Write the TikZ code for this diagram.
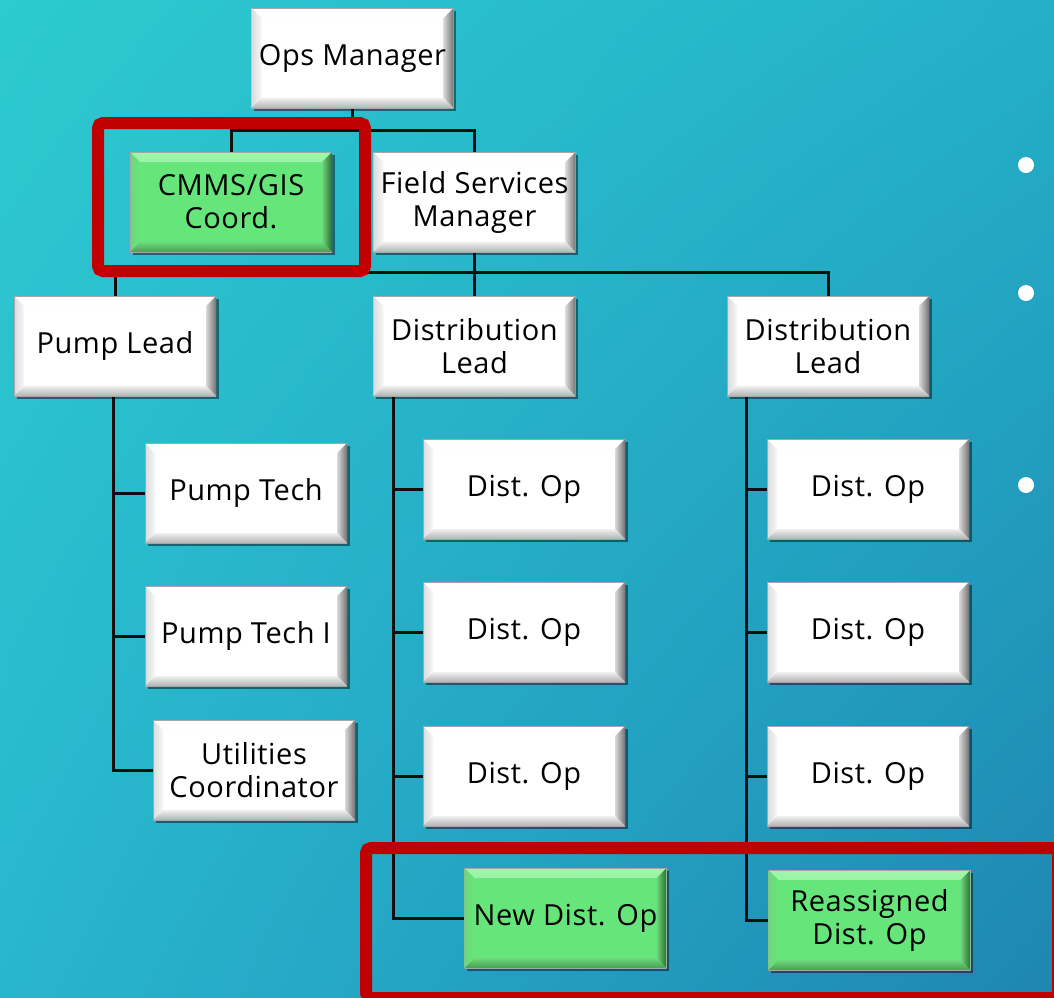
\documentclass[tikz,border=0pt]{standalone}
\usepackage{fontspec}
\setmainfont{Open Sans}[LetterSpace=2]
\usetikzlibrary{shadows,shadings}

\definecolor{bgTL}{RGB}{45,202,208}
\definecolor{bgTR}{RGB}{36,176,200}
\definecolor{bgBL}{RGB}{40,182,206}
\definecolor{bgBR}{RGB}{30,134,178}
\definecolor{frameRed}{RGB}{192,0,0}
\definecolor{faceGreen}{RGB}{102,230,122}
\definecolor{gHi}{RGB}{160,246,170}
\definecolor{gMid}{RGB}{110,215,124}
\definecolor{gLo}{RGB}{70,160,80}
\definecolor{gDeep}{RGB}{40,110,48}
\definecolor{lineInk}{RGB}{15,15,15}

\pgfdeclarelayer{backdrop}
\pgfdeclarelayer{wires}
\pgfsetlayers{backdrop,wires,main}

\newcommand{\boxfont}{\fontsize{29}{33}\selectfont}

\tikzset{
  % bevelled card: #1 face, #2 top edge, #3 left edge, #4 right edge, #5 bottom edge (shading options)
  bevelcard/.style n args={5}{
    rectangle, minimum width=202pt, minimum height=100pt, inner sep=0pt,
    align=center, font=\boxfont, text=black, fill=#1,
    drop shadow={shadow xshift=2.5pt, shadow yshift=-3pt, opacity=0.45, fill=black},
    path picture={
      \shade[#2] (path picture bounding box.north west) -- (path picture bounding box.north east)
        -- ([xshift=-10pt,yshift=-10pt]path picture bounding box.north east)
        -- ([xshift=10pt,yshift=-10pt]path picture bounding box.north west) -- cycle;
      \shade[#3] (path picture bounding box.north west) -- (path picture bounding box.south west)
        -- ([xshift=10pt,yshift=10pt]path picture bounding box.south west)
        -- ([xshift=10pt,yshift=-10pt]path picture bounding box.north west) -- cycle;
      \shade[#4] (path picture bounding box.north east) -- (path picture bounding box.south east)
        -- ([xshift=-10pt,yshift=10pt]path picture bounding box.south east)
        -- ([xshift=-10pt,yshift=-10pt]path picture bounding box.north east) -- cycle;
      \shade[#5] (path picture bounding box.south west) -- (path picture bounding box.south east)
        -- ([xshift=-10pt,yshift=10pt]path picture bounding box.south east)
        -- ([xshift=10pt,yshift=10pt]path picture bounding box.south west) -- cycle;
      \draw[black!35, line width=0.8pt] (path picture bounding box.north west) rectangle (path picture bounding box.south east);
    }},
  whitecard/.style={bevelcard={white}
    {top color=white, bottom color=black!4}
    {left color=black!14, right color=black!3}
    {left color=black!15, right color=black!55}
    {top color=black!6, bottom color=black!30}},
  greencard/.style={bevelcard={faceGreen}
    {top color=gHi, bottom color=faceGreen}
    {left color=gMid, right color=faceGreen}
    {left color=gMid, right color=gDeep}
    {top color=gMid, bottom color=gLo}},
  wire/.style={draw=lineInk, line width=3pt},
  redframe/.style={draw=frameRed, line width=12pt, rounded corners=5pt},
  bullet/.style={fill=white}
}

\begin{document}
\begin{tikzpicture}[x=1pt, y=-1pt]
\useasboundingbox (0,0) rectangle (1054,997);

\begin{pgfonlayer}{backdrop}
  \shade[upper left=bgTL, upper right=bgTR, lower left=bgBL, lower right=bgBR]
    (0,0) rectangle (1054,997);
\end{pgfonlayer}

% top levels
\node[whitecard] (ops)  at (352.5,58)  {Ops Manager};
\node[greencard] (cmms) at (231,202)   {CMMS/GIS\\Coord.};
\node[whitecard] (fsm)  at (474.5,202) {Field Services\\Manager};

% leads
\node[whitecard] (pl)  at (115,346)   {Pump Lead};
\node[whitecard] (dl1) at (474.5,346) {Distribution\\Lead};
\node[whitecard] (dl2) at (828,346)   {Distribution\\Lead};

% pump group
\node[whitecard] (pt1) at (246,493) {Pump Tech};
\node[whitecard] (pt2) at (246,636) {Pump Tech I};
\node[whitecard] (uc)  at (254,770) {Utilities\\Coordinator};

% distribution group one
\node[whitecard] (d11) at (524,489) {Dist. Op};
\node[whitecard] (d12) at (524,632) {Dist. Op};
\node[whitecard] (d13) at (524,776) {Dist. Op};
\node[greencard] (nd)  at (565.5,918) {New Dist. Op};

% distribution group two
\node[whitecard] (d21) at (868,489) {Dist. Op};
\node[whitecard] (d22) at (868,632) {Dist. Op};
\node[whitecard] (d23) at (868,776) {Dist. Op};
\node[greencard] (rd)  at (869.5,920) {Reassigned\\Dist. Op};

% reporting lines
\begin{pgfonlayer}{wires}
  \coordinate (j1) at ([yshift=-22pt]ops.south);
  \coordinate (j2) at ([yshift=-20pt]fsm.south);
  \draw[wire] (ops.south) -- (j1);
  \draw[wire] (j1) -| (cmms.north);
  \draw[wire] (j1) -| (fsm.north);
  \draw[wire] (fsm.south) -- (dl1.north);
  \draw[wire] (j2) -| (pl.north);
  \draw[wire] (j2) -| (dl2.north);

  \coordinate (pls) at ([xshift=-2pt]pl.south);
  \draw[wire] (pls) |- (pt1.west);
  \draw[wire] (pls) |- (pt2.west);
  \draw[wire] (pls) |- (uc.west);

  \coordinate (d1s) at ([xshift=20pt]dl1.south west);
  \draw[wire] (d1s) |- (d11.west);
  \draw[wire] (d1s) |- (d12.west);
  \draw[wire] (d1s) |- (d13.west);
  \draw[wire] (d1s) |- (nd.west);

  \coordinate (d2s) at ([xshift=20pt]dl2.south west);
  \draw[wire] (d2s) |- (d21.west);
  \draw[wire] (d2s) |- (d22.west);
  \draw[wire] (d2s) |- (d23.west);
  \draw[wire] (d2s) |- (rd.west);
\end{pgfonlayer}

% highlight frames (the lower one runs off the right and bottom edges)
\draw[redframe] (98,123) rectangle (365,271);
\draw[redframe] (366,848) rectangle (1058,998);

% list bullets
\fill[bullet] (1026,165) circle (8pt);
\fill[bullet] (1026,293) circle (8pt);
\fill[bullet] (1026,485) circle (8pt);
\end{tikzpicture}
\end{document}
